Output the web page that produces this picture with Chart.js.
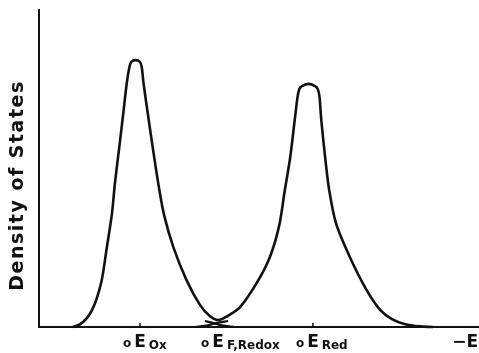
<!DOCTYPE html>
<html>
<head>
<meta charset="utf-8">
<script src="https://cdn.jsdelivr.net/npm/chart.js@4"></script>
<style>
  body { margin: 0; background: #fff; }
  canvas { display: block; }
</style>
</head>
<body>
<canvas id="myChart" width="479" height="353"></canvas>
<script>
// energy axis (arbitrary units, increasing towards -E) and density of states
const energy = [7.7, 9.3, 10.9, 12.1, 13.1, 14.3, 15.4, 16.6, 17.3, 18.2, 19.1, 20.0, 20.6, 21.0, 22.0, 23.0, 23.4, 23.8, 24.9, 26.0, 27.3, 28.5, 30.6, 33.6, 36.7, 38.9, 40.8, 42.6, 45.8, 49.6, 52.6, 54.7, 56.0, 57.2, 58.2, 58.9, 59.3, 59.9, 61.4, 62.9, 63.5, 63.9, 64.3, 65.2, 66.1, 67.7, 70.8, 74.6, 77.7, 80.4, 83.4, 86.8, 89.7];
const density = [0, 0.8, 2.8, 5.4, 8.8, 14.8, 24.6, 35.6, 45.4, 55.8, 66.2, 77.0, 82.0, 83.6, 84.2, 83.6, 82.0, 77.0, 66.2, 55.8, 44.2, 35.3, 25.2, 14.8, 6.9, 3.5, 2.2, 3.2, 6.3, 13.9, 22.1, 31.9, 43.2, 53.3, 64.7, 72.6, 75.1, 76.0, 76.7, 76.0, 75.1, 72.6, 65.3, 53.3, 43.2, 32.5, 22.1, 11.7, 5.4, 2.5, 0.9, 0.2, 0];

// overlapping tails of the two distributions near the baseline
const oxTailE = [37.8, 39.6, 41.7, 44.6];
const oxTailD = [1.9, 1.3, 0.5, 0];
const redTailE = [35.5, 38.5, 40.5, 43.1];
const redTailD = [0, 0.5, 1.3, 1.9];

// marked energy levels
const levelSubs = ["Ox", "F,Redox", "Red"];
const levelEnergy = [23.0, 40.8, 62.4];
const tickEnergy = [23.0, 62.4];

const ink = "#111";
const font = "'DejaVu Sans', sans-serif";

function toPoints(xs, ys){
  return xs.map((x, i) => ({x: x, y: ys[i]}));
}

function curve(xs, ys, width){
  return {
    data: toPoints(xs, ys),
    borderColor: ink,
    borderWidth: width,
    pointRadius: 0,
    fill: false,
    tension: 0.3,
    clip: false
  };
}

// axis title, tick marks and the level labels with subscripts
const annotations = {
  id: 'annotations',
  afterDraw(chart){
    const ctx = chart.ctx;
    const xs = chart.scales.x;
    const area = chart.chartArea;
    ctx.save();
    ctx.fillStyle = ink;
    ctx.strokeStyle = ink;

    ctx.lineWidth = 1.5;
    tickEnergy.forEach(e => {
      const px = xs.getPixelForValue(e);
      ctx.beginPath();
      ctx.moveTo(px, area.bottom);
      ctx.lineTo(px, area.bottom - 4);
      ctx.stroke();
    });

    // y title
    ctx.save();
    ctx.translate(23, (area.top + area.bottom) / 2 + 17);
    ctx.rotate(-Math.PI / 2);
    ctx.font = "bold 19px " + font;
    ctx.letterSpacing = "1.5px";
    ctx.textAlign = "center";
    ctx.textBaseline = "alphabetic";
    ctx.fillText("Density of States", 0, 0);
    ctx.restore();

    // level labels: small o, E, subscript
    const base = area.bottom + 20;
    ctx.textBaseline = "alphabetic";
    levelSubs.forEach((sub, i) => {
      const px = xs.getPixelForValue(levelEnergy[i]);
      ctx.font = "bold 17px " + font;
      const eW = ctx.measureText("E").width;
      const eLeft = px - eW / 2;
      ctx.textAlign = "left";
      ctx.fillText("E", eLeft, base);
      ctx.font = "bold 12px " + font;
      ctx.textAlign = "right";
      ctx.fillText("o", eLeft - 3, base);
      ctx.textAlign = "left";
      ctx.fillText(sub, eLeft + eW + 3, base + 2);
    });

    ctx.font = "bold 17px " + font;
    ctx.textAlign = "right";
    ctx.fillText("\u2212E", area.right, base);
    ctx.restore();
  }
};

const data = {
  datasets: [
    curve(energy, density, 2.6),
    curve(oxTailE, oxTailD, 2.2),
    curve(redTailE, redTailD, 2.2)
  ]
};

const config = {
  type: 'line',
  data,
  options: {
    responsive: false,
    devicePixelRatio: 1,
    animation: false,
    layout: {
      padding: {left: 39, right: 1, top: 10, bottom: 26}
    },
    plugins: {
      legend: { display: false },
      tooltip: { enabled: false }
    },
    scales: {
      x: {
        type: 'linear',
        min: 0,
        max: 100,
        ticks: { display: false },
        grid: { display: false, drawTicks: false },
        border: { display: true, color: ink, width: 2 }
      },
      y: {
        min: 0,
        max: 100,
        ticks: { display: false },
        grid: { display: false, drawTicks: false },
        border: { display: true, color: ink, width: 2 }
      }
    }
  },
  plugins: [annotations]
};

const myChart = new Chart(document.getElementById('myChart'), config);
</script>
</body>
</html>
